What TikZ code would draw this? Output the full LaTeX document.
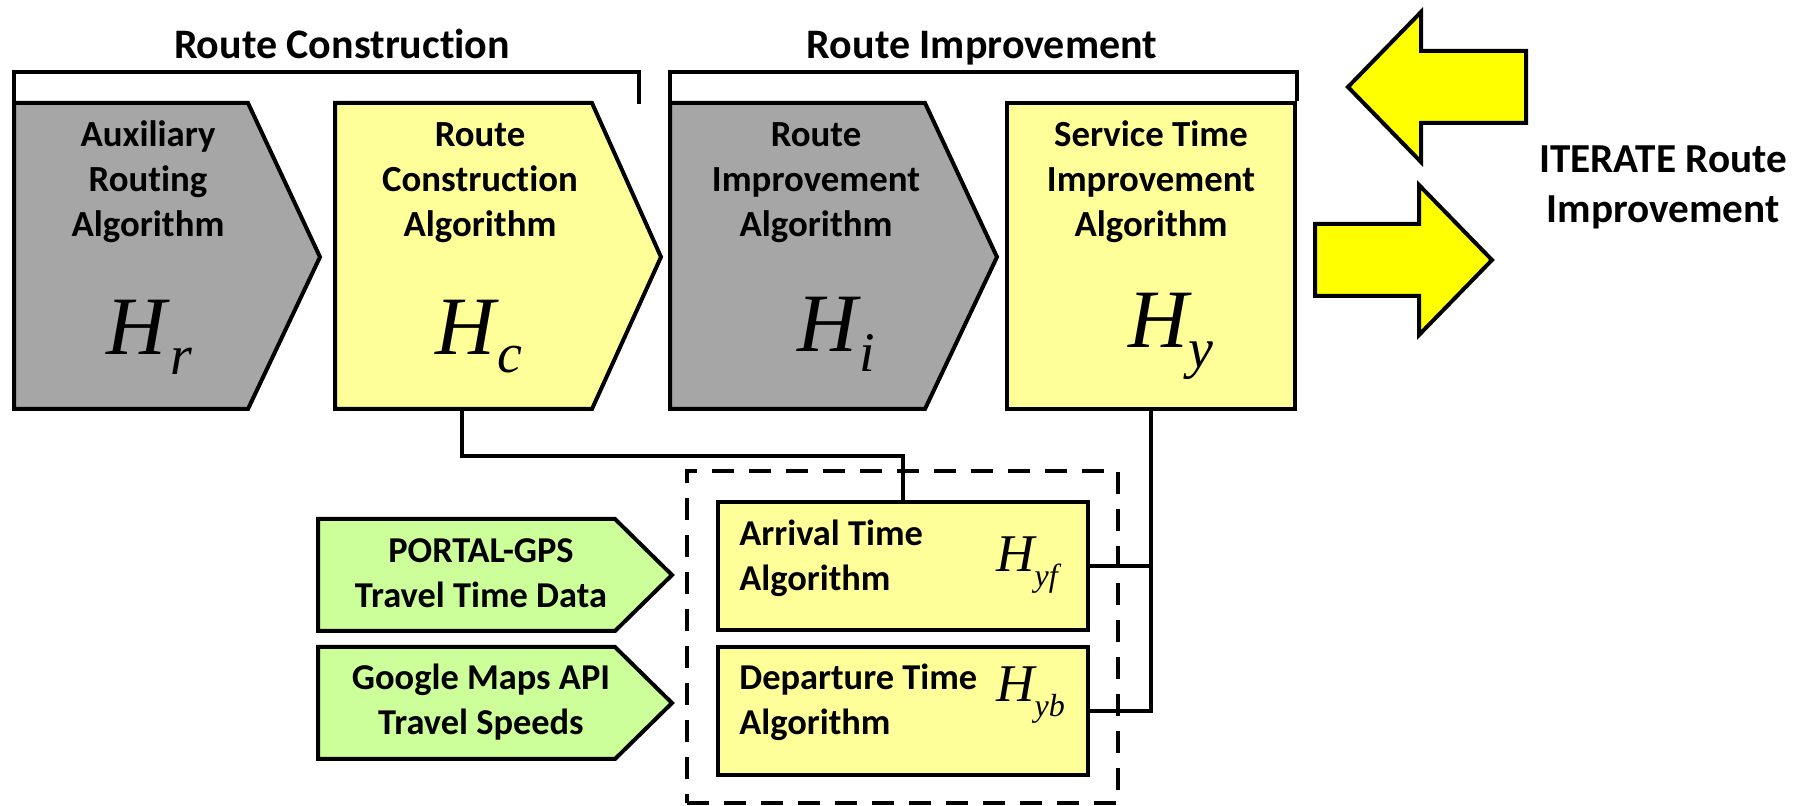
\documentclass[tikz,border=0pt]{standalone}
\usepackage{fontspec}
\setmainfont{Carlito}[Ligatures=NoCommon]
\newfontfamily\tnr{Liberation Serif}
\definecolor{greyfill}{HTML}{A6A6A6}
\definecolor{paleyellow}{HTML}{FFFF99}
\definecolor{palegreen}{HTML}{CCFF99}
\definecolor{brightyellow}{HTML}{FFFF00}
\begin{document}
\begin{tikzpicture}[x=0.5pt, y=-0.5pt,
  outline/.style={draw=black, line width=2pt, line join=miter},
  conn/.style={draw=black, line width=2pt},
  plainbox/.style={outline, fill=paleyellow, rectangle, inner sep=0pt},
  boxtext/.style={font=\bfseries\fontsize{18.4}{22.5}\selectfont, align=center, inner sep=0pt, anchor=base},
  smalltext/.style={font=\bfseries\fontsize{18.2}{22.5}\selectfont, inner sep=0pt, anchor=base},
  title/.style={font=\bfseries\fontsize{21}{25}\selectfont, align=center, inner sep=0pt, anchor=base},
  bigsym/.style={font=\tnr\itshape\fontsize{41.5}{41.5}\selectfont, inner sep=0pt, anchor=base west},
  smallsym/.style={font=\tnr\itshape\fontsize{26.5}{26.5}\selectfont, inner sep=0pt, anchor=base west}]
\useasboundingbox (0,0) rectangle (1806,806);

% chevron stages of the main pipeline
\draw[outline, fill=greyfill] (14,103) coordinate (hr-nw) -- (248,103) -- (320,257) -- (248,409) -- (14,409) -- cycle;
\draw[outline, fill=paleyellow] (335,103) -- (592,103) -- (661,257) -- (592,409) -- (335,409) -- cycle;
\draw[outline, fill=greyfill] (670,103) coordinate (hi-nw) -- (925,103) -- (997,257) -- (925,409) -- (670,409) -- cycle;
\node[plainbox, minimum width=144pt, minimum height=153pt] (hy) at (1151,256) {};
\coordinate (hc-s) at (462,409);

% phase brackets and titles
\draw[conn, line join=miter] (hr-nw) -- (14,72) -- (639,72) -- (639,104);
\draw[conn, line join=miter] (hi-nw) -- (670,72) -| (hy.north east);
\node[title] (t-rc) at (342,59) {Route Construction};
\node[title] (t-ri) at (982,59) {Route Improvement};

% stage labels (anchored at the baseline of their last line)
\node[boxtext] (l-hr) at (148,237) {Auxiliary\\Routing\\Algorithm};
\node[boxtext] (l-hc) at (480,237) {Route\\Construction\\Algorithm};
\node[boxtext] (l-hi) at (816,237) {Route\\Improvement\\Algorithm};
\node[boxtext] (l-hy) at (1151,237) {Service Time\\Improvement\\Algorithm};

\node[bigsym] (s-hr) at (106,355) {H\kern2pt\raisebox{-10pt}{\fontsize{28}{28}\selectfont r}};
\node[bigsym] (s-hc) at (435,355) {H\kern1pt\raisebox{-9pt}{\fontsize{28}{28}\selectfont c}};
\node[bigsym] (s-hi) at (797,352) {H\kern1pt\raisebox{-10pt}{\fontsize{28}{28}\selectfont i}};
\node[bigsym] (s-hy) at (1128,348) {H\kern0pt\raisebox{-10pt}{\fontsize{28}{28}\selectfont y}};

% iterate arrows
\draw[outline, fill=brightyellow] (1348,87) -- (1421,12) -- (1421,51) -- (1526,51) -- (1526,123) -- (1421,123) -- (1421,162) -- cycle;
\draw[outline, fill=brightyellow] (1315,224) -- (1419,224) -- (1419,185) -- (1492,260) -- (1419,335) -- (1419,296) -- (1315,296) -- cycle;
\node[title, font=\bfseries\fontsize{20.6}{25}\selectfont] (t-it) at (1663,223) {ITERATE Route\\Improvement};

% service time sub-algorithms
\node[draw=black, line width=2pt, dash pattern=on 11pt off 7.5pt, minimum width=215.5pt, minimum height=166pt, inner sep=0pt] (grp) at (902.5,637) {};
\node[plainbox, minimum width=185pt, minimum height=64pt] (arr) at (903,566) {};
\node[plainbox, minimum width=185pt, minimum height=64pt] (dep) at (903,711) {};
\node[smalltext, anchor=base west, align=left] (l-arr) at (739,591) {Arrival Time\\Algorithm};
\node[smalltext, anchor=base west, align=left] (l-dep) at (739,735) {Departure Time\\Algorithm};
\node[smallsym] (s-yf) at (996,572) {H\kern0pt\raisebox{-7.5pt}{\fontsize{16}{16}\selectfont yf}};
\node[smallsym] (s-yb) at (996,702) {H\kern0pt\raisebox{-7.5pt}{\fontsize{16}{16}\selectfont yb}};

% travel time data sources
\draw[outline, fill=palegreen] (318,519) -- (615,519) -- (672,575) -- (615,631) -- (318,631) -- cycle;
\draw[outline, fill=palegreen] (318,647) -- (615,647) -- (672,703) -- (615,759) -- (318,759) -- cycle;
\node[smalltext, align=center] (l-gps) at (481,608) {PORTAL-GPS\\Travel Time Data};
\node[smalltext, align=center] (l-gm) at (481,735) {Google Maps API\\Travel Speeds};

% connectors
\draw[conn] (hc-s) -- ++(0,47) -| (arr.north);
\draw[conn] (hy.south) |- (dep.east);
\draw[conn] (arr.east) -- (arr.east -| hy.south);
\end{tikzpicture}
\end{document}
